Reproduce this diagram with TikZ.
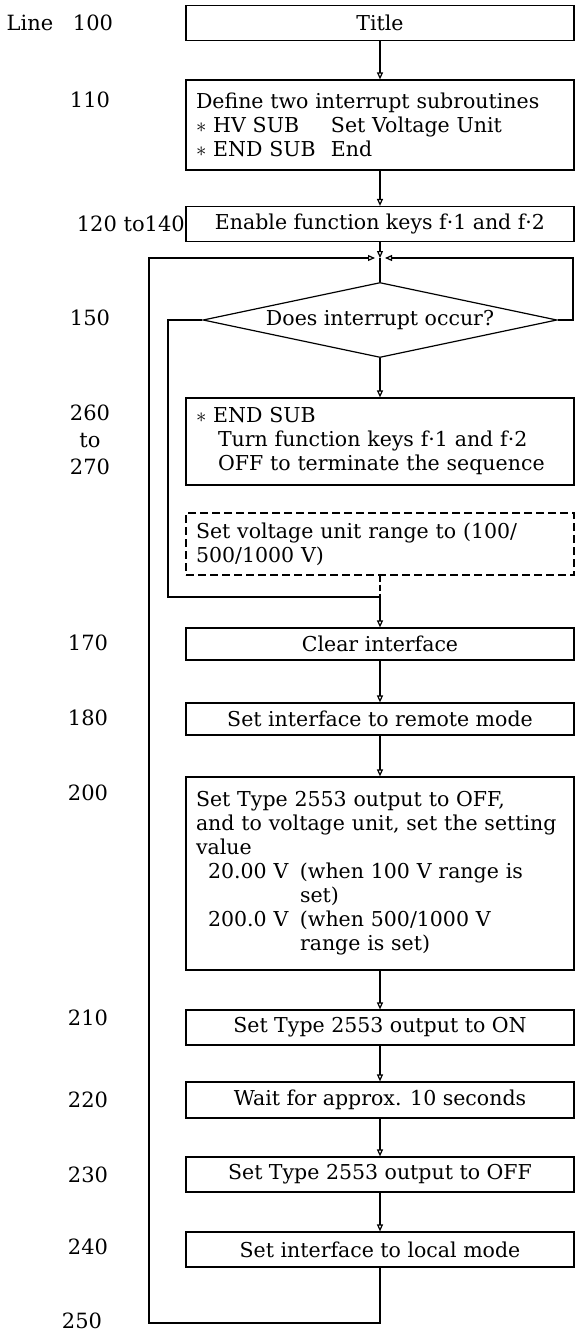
\documentclass[tikz,border=0pt]{standalone}
\usepackage{fontspec}
\setmainfont{DejaVu Serif}
\usetikzlibrary{shapes.geometric,arrows.meta}
\begin{document}
\begin{tikzpicture}[x=1pt,y=-1pt,
  every node/.style={font=\fontsize{20.5}{24}\selectfont},
  stepbox/.style={draw,line width=1.2pt,minimum width=388pt,inner xsep=10pt,inner ysep=2pt,anchor=center},
  leftbox/.style={stepbox,text width=368pt,align=left},
  decide/.style={draw,line width=1.2pt,shape=diamond,aspect=4.72,minimum width=354pt,minimum height=75pt,inner sep=0pt},
  link/.style={line width=1.2pt},
  arr/.style={line width=1.2pt,-{Triangle[open,length=7pt,width=6pt]}},
  lab/.style={anchor=center,font=\fontsize{21}{24}\selectfont}]
\useasboundingbox (0,0) rectangle (579,1335);
\fill[white] (0,0) rectangle (579,1335);

% boxes
\node[stepbox,minimum height=35pt] (title) at (380,23) {Title};
\node[leftbox,minimum height=90pt] (b110) at (380,125) {Define two interrupt subroutines\\
\makebox[135pt][l]{$\ast$ HV SUB}Set Voltage Unit\\
\makebox[135pt][l]{$\ast$ END SUB}End};
\node[stepbox,minimum height=35pt] (b120) at (380,224) {Enable function keys f\textperiodcentered1 and f\textperiodcentered2};
\node[decide] (dia) at (380,320) {Does interrupt occur?};
\node[leftbox,minimum height=87pt] (endsub) at (380,441.5) {$\ast$ END SUB\\
\hspace*{22pt}Turn function keys f\textperiodcentered1 and f\textperiodcentered2\\
\hspace*{22pt}OFF to terminate the sequence};
\node[leftbox,dashed,dash pattern=on 8pt off 4pt,minimum height=62pt] (vset) at (380,544) {Set voltage unit range to (100/\\500/1000 V)};
\node[stepbox,minimum height=32pt] (clear) at (380,644) {Clear interface};
\node[stepbox,minimum height=32pt] (b180) at (380,719) {Set interface to remote mode};
\node[leftbox,minimum height=193pt] (b200) at (380,873.5) {Set Type 2553 output to OFF,\\
and to voltage unit, set the setting\\
value\\
\hspace*{12pt}\makebox[92pt][l]{20.00 V}(when 100 V range is\\
\hspace*{104pt}set)\\
\hspace*{12pt}\makebox[92pt][l]{200.0 V}(when 500/1000 V\\
\hspace*{104pt}range is set)};
\node[stepbox,minimum height=35pt] (b210) at (380,1027.5) {Set Type 2553 output to ON};
\node[stepbox,minimum height=36pt] (b220) at (380,1100) {Wait for approx. 10 seconds};
\node[stepbox,minimum height=35pt] (b230) at (380,1174.5) {Set Type 2553 output to OFF};
\node[stepbox,minimum height=35pt] (b240) at (380,1249.5) {Set interface to local mode};

% junction coordinates
\coordinate (jtop) at (380,258);
\coordinate (jl) at (375,258);
\coordinate (jr) at (385,258);
\coordinate (jbot) at (380,597);
\coordinate (rtop) at (573,258);
\coordinate (rmid) at (573,320);
\coordinate (imid) at (168,320);
\coordinate (ibot) at (168,597);
\coordinate (obr) at (380,1323);
\coordinate (obl) at (149,1323);
\coordinate (otl) at (149,258);

% connectors
\draw[arr] (title) -- (b110);
\draw[arr] (b110) -- (b120);
\draw[arr] (b120.south) -- (jtop);
\draw[link] (jtop) -- (dia.north);
\draw[arr] (dia.east) -- (rmid) -- (rtop) -- (jr);
\draw[link] (dia.west) -- (imid) -- (ibot) -- (jbot);
\draw[arr] (dia.south) -- (endsub.north);
\draw[link,dash pattern=on 6pt off 3pt] (vset.south) -- (jbot);
\draw[arr] (jbot) -- (clear.north);
\draw[arr] (clear) -- (b180);
\draw[arr] (b180) -- (b200);
\draw[arr] (b200) -- (b210);
\draw[arr] (b210) -- (b220);
\draw[arr] (b220) -- (b230);
\draw[arr] (b230) -- (b240);
\draw[arr] (b240.south) -- (obr) -- (obl) -- (otl) -- (jl);

% line labels
\node[lab] (lline) at (30,23) {Line};
\node[lab] (l100) at (93,23) {100};
\node[lab] (l110) at (90,100) {110};
\node[anchor=east,inner xsep=1pt,font=\fontsize{21}{24}\selectfont] (l120) at (186,224) {120 to140};
\node[lab] (l150) at (90,318) {150};
\node[lab,align=center,font=\fontsize{21}{27}\selectfont] (l260) at (90,440) {260\\to\\270};
\node[lab] (l170) at (88,643) {170};
\node[lab] (l180) at (88,718) {180};
\node[lab] (l200) at (88,793) {200};
\node[lab] (l210) at (88,1018) {210};
\node[lab] (l220) at (88,1100) {220};
\node[lab] (l230) at (88,1175) {230};
\node[lab] (l240) at (88,1247) {240};
\node[lab] (l250) at (82,1321) {250};
\end{tikzpicture}
\end{document}
